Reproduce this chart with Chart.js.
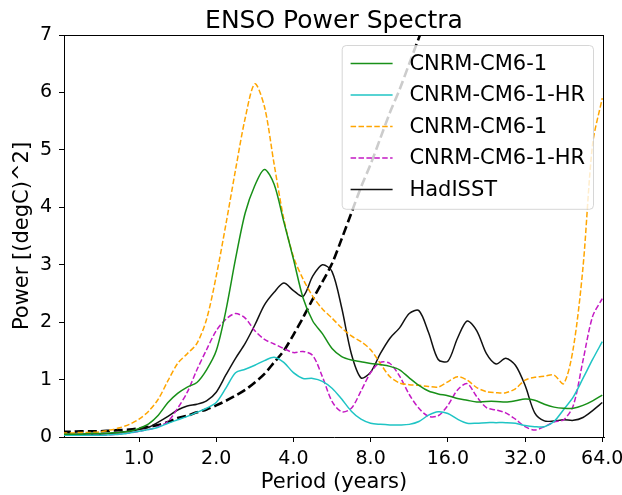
<!DOCTYPE html>
<html>
<head>
<meta charset="utf-8">
<script src="https://cdn.jsdelivr.net/npm/chart.js@4.4.0/dist/chart.umd.min.js"></script>
<style>
html,body{margin:0;padding:0;background:#fff;}
#wrap{width:622px;height:495px;}
</style>
</head>
<body>
<div id="wrap"><canvas id="c" width="622" height="495"></canvas></div>
<script>
// Period (years), one sample every 1/8 octave
const periods = [0.5, 0.5453, 0.5946, 0.6484, 0.7071, 0.7711, 0.8409, 0.917,
  1, 1.0905, 1.1892, 1.2968, 1.4142, 1.5422, 1.6818, 1.834,
  2, 2.181, 2.3784, 2.5937, 2.8284, 3.0844, 3.3636, 3.668,
  4, 4.3621, 4.7568, 5.1874, 5.6569, 6.1688, 6.7272, 7.336,
  8, 8.7241, 9.5137, 10.3747, 11.3137, 12.3377, 13.4543, 14.6721,
  16, 17.4483, 19.0273, 20.7494, 22.6274, 24.6754, 26.9087, 29.3441,
  32, 34.8966, 38.0546, 41.4989, 45.2548, 49.3507, 53.8174, 58.6883, 64];

const cnrmSolid = [0.05,0.05,0.05,0.06,0.06,0.07,0.08,0.1,
  0.15,0.23,0.38,0.6,0.76,0.87,0.95,1.17,
  1.5,2.2,3.1,3.9,4.38,4.66,4.4,3.75,
  3.1,2.42,2.02,1.8,1.54,1.4,1.34,1.31,
  1.28,1.26,1.23,1.17,1.03,0.9,0.8,0.75,
  0.72,0.67,0.64,0.61,0.62,0.62,0.61,0.63,
  0.66,0.64,0.57,0.52,0.5,0.5,0.55,0.63,0.73];

const cnrmHrSolid = [0.03,0.03,0.03,0.03,0.03,0.04,0.05,0.07,
  0.1,0.13,0.17,0.24,0.3,0.36,0.43,0.5,
  0.6,0.85,1.12,1.18,1.25,1.33,1.39,1.3,
  1.12,1.02,1.02,0.97,0.85,0.66,0.45,0.31,
  0.24,0.22,0.21,0.21,0.22,0.27,0.38,0.44,
  0.41,0.31,0.24,0.24,0.25,0.25,0.25,0.24,
  0.2,0.18,0.18,0.27,0.48,0.7,1.02,1.35,1.66];

const cnrmDashed = [0.07,0.07,0.08,0.08,0.09,0.12,0.16,0.22,
  0.31,0.45,0.66,0.98,1.28,1.45,1.63,2.05,
  2.8,3.7,4.65,5.55,6.15,5.75,4.75,3.8,
  3.14,2.75,2.45,2.23,2.07,1.9,1.76,1.66,
  1.52,1.28,1.05,0.94,0.91,0.9,0.88,0.87,
  0.96,1.05,0.99,0.86,0.79,0.77,0.77,0.84,
  0.99,1.04,1.06,1.08,0.93,1.55,2.95,5.1,5.9];

const cnrmHrDashed = [0.03,0.03,0.03,0.03,0.03,0.04,0.05,0.07,
  0.1,0.13,0.18,0.27,0.5,0.78,1.17,1.52,
  1.85,2.05,2.15,2.07,1.85,1.7,1.62,1.54,
  1.47,1.49,1.42,1.05,0.62,0.44,0.5,0.8,
  1.12,1.3,1.28,1.06,0.74,0.5,0.36,0.37,
  0.55,0.82,0.93,0.7,0.51,0.47,0.42,0.31,
  0.18,0.12,0.18,0.26,0.3,0.55,1.33,2.1,2.41];

const hadisst = [0.05,0.05,0.05,0.05,0.05,0.06,0.08,0.1,
  0.13,0.17,0.26,0.36,0.47,0.54,0.57,0.63,
  0.78,1.08,1.37,1.63,1.95,2.3,2.52,2.68,
  2.55,2.45,2.8,3.0,2.88,2.25,1.45,1.03,
  1.13,1.45,1.72,1.9,2.15,2.2,1.82,1.35,
  1.32,1.72,2.02,1.85,1.45,1.27,1.37,1.25,
  0.9,0.42,0.28,0.28,0.3,0.29,0.34,0.46,0.6];

// reference curve (black thick dashed), first 39 periods
const redNoise = [0.09,0.09,0.1,0.1,0.1,0.11,0.12,0.13,
  0.15,0.18,0.21,0.26,0.33,0.37,0.43,0.48,
  0.55,0.63,0.72,0.82,0.95,1.1,1.3,1.5,
  1.78,2.08,2.4,2.7,3.02,3.45,3.9,4.35,
  4.75,5.2,5.65,6.05,6.5,6.95,7.4];

const xTickValues = [1, 2, 4, 8, 16, 32, 64];
const yTickValues = [0, 1, 2, 3, 4, 5, 6, 7];
const seriesLabels = ['CNRM-CM6-1', 'CNRM-CM6-1-HR', 'CNRM-CM6-1', 'CNRM-CM6-1-HR', 'HadISST'];
const titleText = 'ENSO Power Spectra';

const pts = arr => arr.map((v, i) => ({x: periods[i], y: v}));

Chart.defaults.font.family = '"DejaVu Sans", sans-serif';
Chart.defaults.color = '#000';

const DASH = [5.5, 2.4];

const mplDecor = {
  id: 'mplDecor',
  afterDatasetsDraw(chart) {
    const {ctx, chartArea: ca} = chart;
    const items = chart.data.datasets.filter(d => d.inLegend);
    const fs = 21;
    ctx.save();
    ctx.font = fs + 'px "DejaVu Sans"';
    const tw = Math.max(...items.map(d => ctx.measureText(d.label).width));
    const pad = 0.4 * fs, hl = 2 * fs, tp = 0.8 * fs, ls = 0.5 * fs;
    const w = pad * 2 + hl + tp + tw;
    const h = pad * 2 + items.length * fs + (items.length - 1) * ls;
    const x0 = ca.right - 0.5 * fs - w, y0 = ca.top + 0.5 * fs;
    const r = 4;
    ctx.beginPath();
    ctx.moveTo(x0 + r, y0);
    ctx.lineTo(x0 + w - r, y0); ctx.quadraticCurveTo(x0 + w, y0, x0 + w, y0 + r);
    ctx.lineTo(x0 + w, y0 + h - r); ctx.quadraticCurveTo(x0 + w, y0 + h, x0 + w - r, y0 + h);
    ctx.lineTo(x0 + r, y0 + h); ctx.quadraticCurveTo(x0, y0 + h, x0, y0 + h - r);
    ctx.lineTo(x0, y0 + r); ctx.quadraticCurveTo(x0, y0, x0 + r, y0);
    ctx.closePath();
    ctx.fillStyle = 'rgba(255,255,255,0.8)';
    ctx.fill();
    ctx.strokeStyle = 'rgba(204,204,204,0.8)';
    ctx.lineWidth = 1;
    ctx.stroke();
    items.forEach((d, i) => {
      const cy = y0 + pad + fs / 2 + i * (fs + ls) - 1;
      ctx.beginPath();
      ctx.setLineDash(d.borderDash || []);
      ctx.strokeStyle = d.borderColor;
      ctx.lineWidth = d.borderWidth;
      ctx.moveTo(x0 + pad, cy);
      ctx.lineTo(x0 + pad + hl, cy);
      ctx.stroke();
      ctx.setLineDash([]);
      ctx.fillStyle = '#000';
      ctx.textAlign = 'left';
      ctx.textBaseline = 'middle';
      ctx.fillText(d.label, x0 + pad + hl + tp, cy + 1);
    });
    ctx.restore();
  },
  afterDraw(chart) {
    const {ctx, chartArea: ca} = chart;
    ctx.save();
    ctx.strokeStyle = '#000';
    ctx.lineWidth = 1;
    ctx.beginPath();
    ctx.moveTo(ca.left, ca.top + 0.5); ctx.lineTo(ca.right, ca.top + 0.5);
    ctx.moveTo(ca.right - 0.5, ca.top); ctx.lineTo(ca.right - 0.5, ca.bottom);
    ctx.stroke();
    ctx.font = '25px "DejaVu Sans"';
    ctx.fillStyle = '#000';
    ctx.textAlign = 'center';
    ctx.textBaseline = 'alphabetic';
    ctx.fillText(titleText, (ca.left + ca.right) / 2, 28);
    ctx.restore();
  }
};

const common = {pointRadius: 0, pointHoverRadius: 0, fill: false, showLine: true, tension: 0.3, borderWidth: 1.5};

new Chart(document.getElementById('c'), {
  type: 'scatter',
  data: {
    datasets: [
      {...common, label: seriesLabels[0], data: pts(cnrmSolid), borderColor: '#189018', inLegend: true},
      {...common, label: seriesLabels[1], data: pts(cnrmHrSolid), borderColor: '#1fc4c4', inLegend: true},
      {...common, label: seriesLabels[2], data: pts(cnrmDashed), borderColor: '#ffa500', borderDash: DASH, inLegend: true},
      {...common, label: seriesLabels[3], data: pts(cnrmHrDashed), borderColor: '#c41ac4', borderDash: DASH, inLegend: true},
      {...common, label: seriesLabels[4], data: pts(hadisst), borderColor: '#111111', inLegend: true},
      {...common, label: 'reference', data: pts(redNoise), borderColor: '#000', borderDash: [9, 4], borderWidth: 2.6, inLegend: false}
    ]
  },
  options: {
    responsive: false,
    animation: false,
    devicePixelRatio: 1,
    layout: {padding: {top: 35, right: 18, left: 0, bottom: 0}},
    plugins: {legend: {display: false}, tooltip: {enabled: false}, title: {display: false}},
    scales: {
      x: {
        type: 'logarithmic', min: 0.51, max: 65,
        afterBuildTicks: s => { s.ticks = xTickValues.map(v => ({value: v})); },
        afterFit: s => { s.height = 58; s.paddingLeft = 0; s.paddingRight = 0; },
        ticks: {callback: v => Number(v).toFixed(1), color: '#000', font: {size: 19}, padding: 6, autoSkip: false, maxRotation: 0, minRotation: 0},
        grid: {drawOnChartArea: false, drawTicks: true, tickLength: 5, color: '#000', lineWidth: 1},
        border: {display: true, color: '#000', width: 1},
        title: {display: true, text: 'Period (years)', color: '#000', font: {size: 21}, padding: {top: 0, bottom: 0}}
      },
      y: {
        min: 0, max: 7,
        afterBuildTicks: s => { s.ticks = yTickValues.map(v => ({value: v})); },
        afterFit: s => { s.width = 64; s.paddingTop = 0; s.paddingBottom = 0; },
        ticks: {callback: v => String(v), color: '#000', font: {size: 19}, padding: 7},
        grid: {drawOnChartArea: false, drawTicks: true, tickLength: 5, color: '#000', lineWidth: 1},
        border: {display: true, color: '#000', width: 1},
        title: {display: true, text: 'Power [(degC)^2]', color: '#000', font: {size: 21}, padding: {top: 10, bottom: 0}}
      }
    }
  },
  plugins: [mplDecor]
});
</script>
</body>
</html>
